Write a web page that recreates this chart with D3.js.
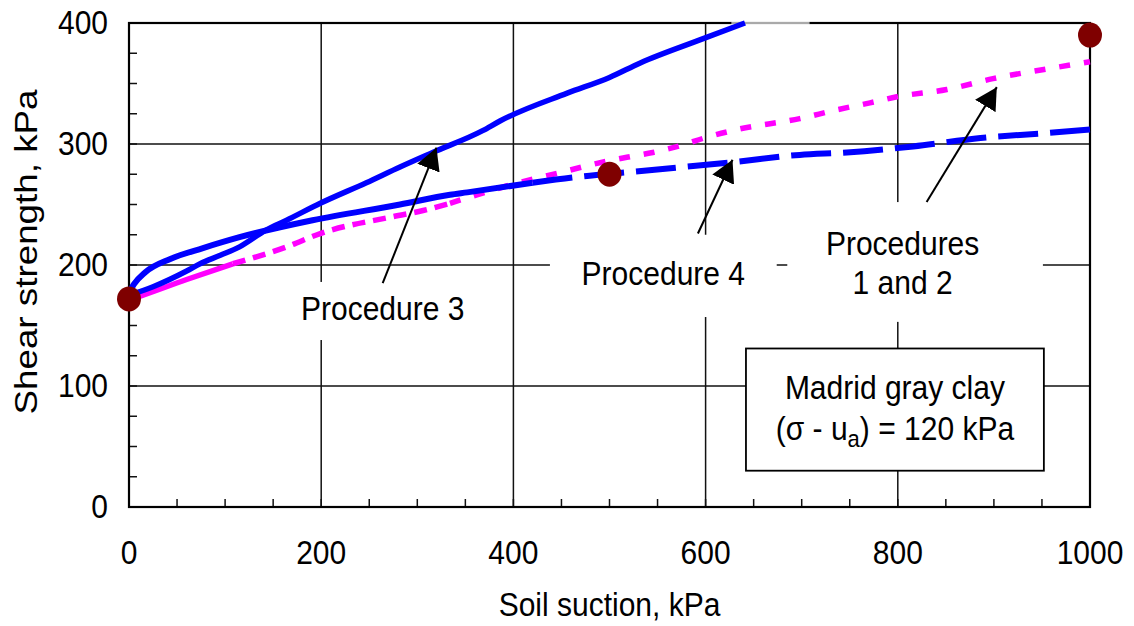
<!DOCTYPE html>
<html>
<head>
<meta charset="utf-8">
<script src="https://cdn.jsdelivr.net/npm/d3@7"></script>
<style>
  body { margin: 0; background: #fff; }
  svg { display: block; font-family: "Liberation Sans", Arial, sans-serif; }
</style>
</head>
<body>
<svg width="1134" height="626"></svg>
<script>
// Data: [soil suction kPa, shear strength kPa]
const procedure12 = [[0,171],[11,174],[60,188],[108,201],[164,215],[199,226],[275,240],[306,245],[334,251],[362,258],[396,266],[452,277],[487,284],[518,289],[545,293],[571,298],[603,306],[633,312],[698,321],[735,328],[771,334],[799,339],[851,345],[899,354],[955,362],[1000,368]];
const procedure4 = [[0,177],[5,184],[17,194],[43,205],[77,214],[115,223],[191,237],[282,250],[334,258],[352,260],[420,268],[469,273],[524,277],[577,281],[628,285],[698,291],[747,293],[816,298],[886,305],[955,309],[1000,312]];
const procedure3 = [[0,175],[25,182],[60,195],[74,201],[95,208],[115,215],[143,229],[164,237],[199,251],[247,268],[282,281],[316,293],[368,311],[386,319],[456,342],[500,355],[532,367],[594,386],[641,400]];
const measured = [[0,172],[500,275],[1000,390]];

const xTicks = [0, 200, 400, 600, 800, 1000];
const yTicks = [0, 100, 200, 300, 400];

const svg = d3.select("svg");
const x = d3.scaleLinear().domain([0, 1000]).range([129, 1090]);
const y = d3.scaleLinear().domain([0, 400]).range([507, 23]);
const FS = 30, SY = 1.08;

// text helper: slightly stretched vertically like the original
function label(g, px, py, str, anchor) {
  return g.append("text")
    .attr("transform", `translate(${px},${py}) scale(1,${SY})`)
    .attr("text-anchor", anchor || "middle")
    .attr("dy", "0.35em")
    .style("font-size", FS + "px")
    .attr("fill", "#000")
    .text(str);
}

// gridlines
const grid = svg.append("g").attr("stroke", "#111").attr("stroke-width", 1.5);
grid.selectAll(".gx").data(xTicks.slice(1, -1)).enter().append("line")
  .attr("x1", d => x(d)).attr("x2", d => x(d)).attr("y1", y(0)).attr("y2", y(400));
grid.selectAll(".gy").data(yTicks.slice(1, -1)).enter().append("line")
  .attr("y1", d => y(d)).attr("y2", d => y(d)).attr("x1", x(0)).attr("x2", x(1000));

// minor ticks, pointing inside
const minor = svg.append("g").attr("stroke", "#111").attr("stroke-width", 1.5);
minor.selectAll(".mx").data(d3.range(50, 1000, 50)).enter().append("line")
  .attr("x1", d => x(d)).attr("x2", d => x(d)).attr("y1", y(0)).attr("y2", y(0) - 8);
minor.selectAll(".my").data(d3.range(25, 400, 25)).enter().append("line")
  .attr("y1", d => y(d)).attr("y2", d => y(d)).attr("x1", x(0)).attr("x2", x(0) + 8);

// white boxes behind the annotation text (they hide the grid)
const boxes = [
  { x0: 168, x1: 365, y0: 138, y1: 186 },
  { x0: 438, x1: 674, y0: 157, y1: 225 },
  { x0: 685, x1: 951, y0: 153, y1: 252 }
];
svg.append("g").selectAll("rect").data(boxes).enter().append("rect")
  .attr("x", d => x(d.x0)).attr("y", d => y(d.y1))
  .attr("width", d => x(d.x1) - x(d.x0)).attr("height", d => y(d.y0) - y(d.y1))
  .attr("fill", "#fff");

// frame
svg.append("rect")
  .attr("x", x(0)).attr("y", y(400))
  .attr("width", x(1000) - x(0)).attr("height", y(0) - y(400))
  .attr("fill", "none").attr("stroke", "#000").attr("stroke-width", 2.2);
// thin section of the top border
svg.append("line").attr("x1", x(627)).attr("x2", x(708)).attr("y1", y(400)).attr("y2", y(400))
  .attr("stroke", "#fff").attr("stroke-width", 3);
svg.append("line").attr("x1", x(627)).attr("x2", x(708)).attr("y1", y(400)).attr("y2", y(400))
  .attr("stroke", "#555").attr("stroke-width", 1);

// curves
const line = d3.line().x(d => x(d[0])).y(d => y(d[1])).curve(d3.curveMonotoneX);
function drawPart(data, from, to, color, width, dash) {
  const pts = data.filter(d => d[0] >= from && d[0] <= to);
  svg.append("path").datum(pts)
    .attr("fill", "none").attr("stroke", color)
    .attr("stroke-width", width)
    .attr("stroke-linejoin", "round")
    .attr("stroke-dasharray", dash)
    .attr("d", line);
}
drawPart(procedure12, 0, 108, "#ff00ff", 5.5, null);
drawPart(procedure12, 108, 334, "#ff00ff", 5.5, "13,8");
drawPart(procedure12, 334, 1000, "#ff00ff", 5.5, "11,14");
drawPart(procedure4, 0, 420, "#0000ff", 6, null);
drawPart(procedure4, 420, 1000, "#0000ff", 6, "40,12");
drawPart(procedure3, 0, 1000, "#0000ff", 5.5, null);

// measured points
svg.append("g").selectAll("ellipse").data(measured).enter().append("ellipse")
  .attr("cx", d => x(d[0])).attr("cy", d => y(d[1]))
  .attr("rx", 12).attr("ry", 12.5)
  .attr("fill", "#7f0000");

// arrows
svg.append("defs").append("marker")
  .attr("id", "head").attr("viewBox", "0 0 22 24")
  .attr("refX", 22).attr("refY", 12)
  .attr("markerWidth", 22).attr("markerHeight", 24)
  .attr("markerUnits", "userSpaceOnUse")
  .attr("orient", "auto")
  .append("path").attr("d", "M0,0 L22,12 L0,24 Z").attr("fill", "#000");
const arrows = [
  { from: [264, 185], to: [320, 297] },
  { from: [592, 226], to: [628, 287] },
  { from: [830, 252], to: [903, 347] }
];
svg.append("g").selectAll("line").data(arrows).enter().append("line")
  .attr("x1", d => x(d.from[0])).attr("y1", d => y(d.from[1]))
  .attr("x2", d => x(d.to[0])).attr("y2", d => y(d.to[1]))
  .attr("stroke", "#000").attr("stroke-width", 2)
  .attr("marker-end", "url(#head)");

// annotation labels
const notes = svg.append("g");
label(notes, x(264), y(164), "Procedure 3");
label(notes, x(556), y(193), "Procedure 4");
label(notes, x(805), y(218), "Procedures");
label(notes, x(805), y(185), "1 and 2");

// info box
const info = svg.append("g");
info.append("rect")
  .attr("x", x(642)).attr("y", y(131))
  .attr("width", x(952) - x(642)).attr("height", y(30) - y(131))
  .attr("fill", "#fff").attr("stroke", "#000").attr("stroke-width", 1.8);
label(info, x(797), y(99), "Madrid gray clay");
const t2 = label(info, x(797), y(65), "");
t2.append("tspan").text("(σ - u");
t2.append("tspan").attr("dy", "0.3em").style("font-size", "22px").text("a");
t2.append("tspan").attr("dy", "-0.22em").text(") = 120 kPa");

// axis labels
const axes = svg.append("g");
xTicks.forEach(t => label(axes, x(t), 553, String(t)));
yTicks.forEach(t => label(axes, 108, y(t), String(t), "end"));
label(axes, (x(0) + x(1000)) / 2, 605, "Soil suction, kPa");
axes.append("text")
  .attr("transform", `translate(26,252) rotate(-90) scale(1.15,1)`)
  .attr("text-anchor", "middle").attr("dy", "0.35em")
  .style("font-size", "32px")
  .text("Shear strength, kPa");
</script>
</body>
</html>
